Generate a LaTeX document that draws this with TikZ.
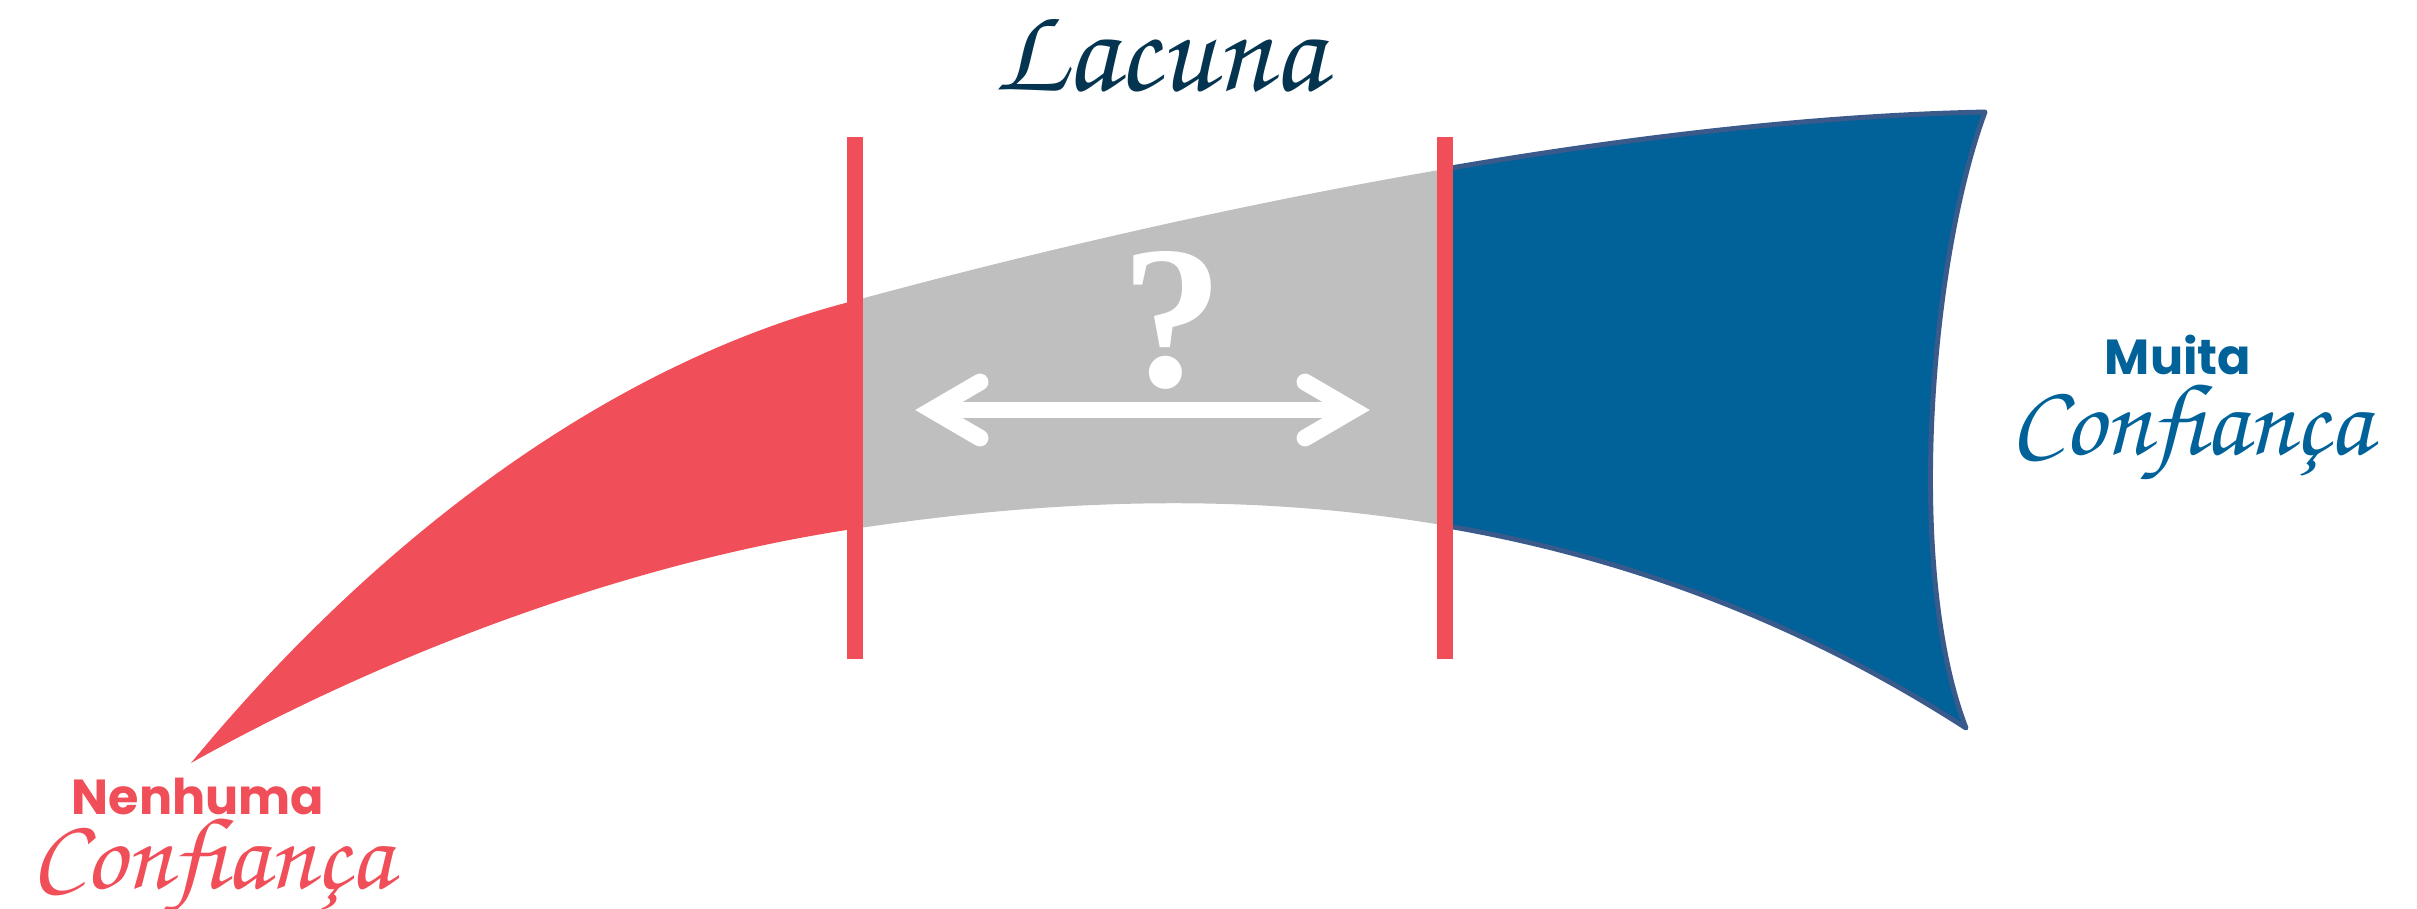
\documentclass[tikz,border=0pt]{standalone}
\usepackage{fontspec}
\newfontfamily\poppins{Poppins}
\newfontfamily\qmarkfont{Liberation Serif}
\newfontfamily\chorus{texgyrechorus-mediumitalic.otf}

\definecolor{lowred}{HTML}{F04E58}
\definecolor{gapgray}{HTML}{BFBFBF}
\definecolor{highblue}{HTML}{006299}
\definecolor{edgeblue}{HTML}{3A5A8C}
\definecolor{titlenavy}{HTML}{04344F}

\begin{document}
\begin{tikzpicture}[
    x=0.01cm, y=-0.01cm,
    bar/.style={fill=lowred, inner sep=0pt, minimum width=0.16cm, minimum height=5.22cm},
    boldlabel/.style={anchor=base, inner sep=0pt, font=\poppins\bfseries\fontsize{14}{17}\selectfont},
    scriptlabel/.style={anchor=base, inner sep=0pt, font=\chorus\fontsize{29}{34}\selectfont},
    wing/.style={draw=white, line width=4.8pt, line cap=round, line join=miter}
  ]
    \useasboundingbox (0,0) rectangle (2417,908);
    \def\bandpath{(191,763) .. controls (371,545) and (603,365) .. (853,301)
      .. controls (1203,206) and (1635,119) .. (1985,112)
      .. controls (1930,260) and (1905,570) .. (1966,728)
      .. controls (1566,470) and (1153,484) .. (853,529)
      .. controls (633,562) and (391,651) .. (191,763) -- cycle}

    % the band, in three colours
    \begin{scope}
      \clip \bandpath;
      \fill[lowred] (0,0) rectangle (855,908);
      \fill[gapgray] (855,0) rectangle (1445,908);
      \fill[highblue] (1445,0) rectangle (2417,908);
    \end{scope}
    \begin{scope}
      \clip (1445,0) rectangle (2417,908);
      \draw[edgeblue, line width=1.4pt, line join=round] \bandpath;
    \end{scope}

    % limits of the gap
    \node[bar] (gapstart) at (855,398) {};
    \node[bar] (gapend) at (1445,398) {};

    % question and double arrow
    \node[anchor=base, text=white, font=\qmarkfont\bfseries\fontsize{58}{64}\selectfont] (question) at (1172,386) {?};
    \coordinate (leftend) at (948,410);
    \coordinate (rightend) at (1337,410);
    \draw[white, line width=4.3pt] (leftend) -- (rightend);
    \draw[wing] (980,382) -- (932,410) -- (980,438);
    \draw[wing] (1305,382) -- (1353,410) -- (1305,438);

    % labels
    \node[scriptlabel, text=titlenavy, font=\chorus\fontsize{35}{40}\selectfont] (title) at (1159,90) {Lacuna};
    \node[boldlabel, text=lowred] (nonetop) at (198,814) {Nenhuma};
    \node[scriptlabel, text=lowred] (nonebottom) at (212,888) {Confiança};
    \node[boldlabel, text=highblue] (muchtop) at (2178,374) {Muita};
    \node[scriptlabel, text=highblue] (muchbottom) at (2191,454) {Confiança};
  \end{tikzpicture}
\end{document}
